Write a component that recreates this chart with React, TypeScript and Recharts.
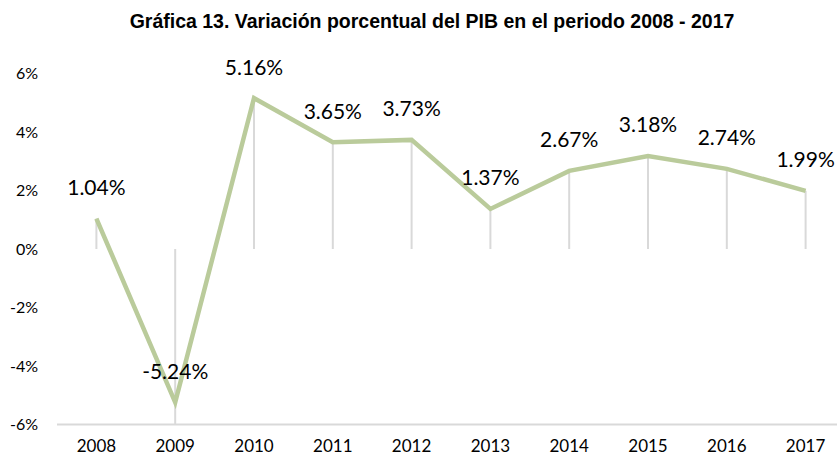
import React from "react";
import {
  LineChart,
  Line,
  XAxis,
  YAxis,
  ReferenceLine,
  LabelList,
} from "recharts";

const years = ["2008", "2009", "2010", "2011", "2012", "2013", "2014", "2015", "2016", "2017"];
const pibVariation = [1.04, -5.24, 5.16, 3.65, 3.73, 1.37, 2.67, 3.18, 2.74, 1.99];
const yTicks = [-6, -4, -2, 0, 2, 4, 6];

const Y_MIN = -6;
const Y_MAX = 6;

const LINE_COLOR = "#bacb9b";
const GRID_COLOR = "#d9d9d9";
const FONT = "Lato, 'Open Sans', sans-serif";

const data = years.map((year, i) => ({ year, value: pibVariation[i] }));

// value label above each point, like Excel's "Above" position
const renderValueLabel = (props: any) => {
  const { x, y, value } = props;
  return (
    <text
      x={x}
      y={y - 32}
      textAnchor="middle"
      dominantBaseline="central"
      fontFamily={FONT}
      fontSize={21}
      fill="#000"
    >
      {`${Number(value).toFixed(2)}%`}
    </text>
  );
};

export default function App() {
  return (
    <div
      style={{
        position: "absolute",
        left: 0,
        top: 0,
        width: 837,
        height: 457,
        overflow: "hidden",
        background: "#fff",
      }}
    >
      <div
        style={{
          position: "absolute",
          left: 0,
          top: 10,
          width: 864,
          textAlign: "center",
          fontFamily: "'Liberation Sans Narrow', 'Arial Narrow', 'Liberation Sans', sans-serif",
          fontWeight: "bold",
          fontSize: 19.5,
          color: "#000",
        }}
      >
        Gráfica 13. Variación porcentual del PIB en el periodo 2008 - 2017
      </div>
      <LineChart
        width={850}
        height={457}
        data={data}
        margin={{ top: 73.5, right: 5, bottom: 2.5, left: 0 }}
      >
        <XAxis
          dataKey="year"
          height={30}
          padding={{ left: 39.4, right: 39.4 }}
          axisLine={{ stroke: GRID_COLOR, strokeWidth: 2 }}
          tickLine={false}
          tickSize={0}
          tickMargin={15}
          tick={{ fill: "#000", fontFamily: FONT, fontSize: 17 }}
          interval={0}
        />
        <YAxis
          width={57}
          domain={[Y_MIN, Y_MAX]}
          ticks={yTicks}
          tickFormatter={(v: number) => `${v}%`}
          axisLine={false}
          tickLine={false}
          tickSize={0}
          tickMargin={19}
          tick={{ fill: "#000", fontFamily: FONT, fontSize: 16 }}
        />
        {data.map((d) => (
          <ReferenceLine
            key={d.year}
            segment={[
              { x: d.year, y: Math.max(d.value, 0) },
              { x: d.year, y: d.value >= 0 ? 0 : Y_MIN },
            ]}
            stroke={GRID_COLOR}
            strokeWidth={2}
          />
        ))}
        <Line
          type="linear"
          dataKey="value"
          stroke={LINE_COLOR}
          strokeWidth={4.5}
          dot={false}
          isAnimationActive={false}
        >
          <LabelList dataKey="value" content={renderValueLabel} />
        </Line>
      </LineChart>
    </div>
  );
}
